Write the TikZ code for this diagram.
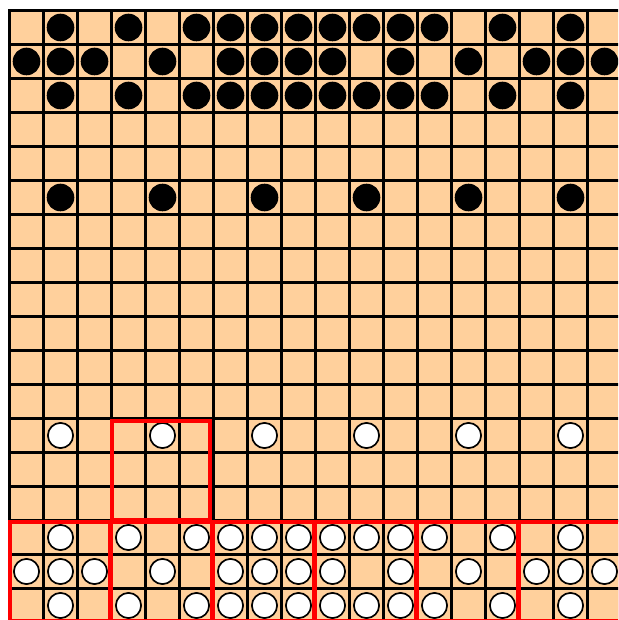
\documentclass[tikz,border=0pt]{standalone}
\definecolor{boardc}{RGB}{255,208,156}
\begin{document}
\begin{tikzpicture}[x=1pt,y=-1pt,
  gridline/.style={line width=2.2pt,black},
  border/.style={line width=3.5pt,black,line cap=rect},
  blackstone/.style={fill=black},
  whitestone/.style={fill=white,draw=black,line width=1.7pt},
  redbox/.style={draw=red,line width=4pt},
  reddiv/.style={draw=red,line width=5.5pt}]
\useasboundingbox (0,0) rectangle (618,620);
\begin{scope}
\clip (0,0) rectangle (618,620);
\fill[boardc] (9.5,10.5) rectangle (640,640);
\foreach \i in {1,...,18} \draw[gridline] (9.5+34*\i,10.5) -- (9.5+34*\i,640);
\foreach \j in {1,...,18} \draw[gridline] (9.5,10.5+34*\j) -- (640,10.5+34*\j);
\draw[border] (9.5,640) -- (9.5,10.5) -- (640,10.5);
% black stones
\foreach \r/\cols in {0/{1,3,5,6,7,8,9,10,11,12,14,16},
                      1/{0,1,2,4,6,7,8,9,11,13,15,16,17},
                      2/{1,3,5,6,7,8,9,10,11,12,14,16},
                      5/{1,4,7,10,13,16}}
  \foreach \c in \cols \fill[blackstone] (26.5+34*\c,27.5+34*\r) circle (13.8);
% white stones
\foreach \r/\cols in {12/{1,4,7,10,13,16},
                      15/{1,3,5,6,7,8,9,10,11,12,14,16},
                      16/{0,1,2,4,6,7,8,9,11,13,15,16,17},
                      17/{1,3,5,6,7,8,9,10,11,12,14,16}}
  \foreach \c in \cols \draw[whitestone] (26.5+34*\c,27.5+34*\r) circle (12.6);
% red boxes
\draw[redbox] (112.3,420.5) rectangle (210,519.5);
\draw[redbox] (10,522) rectangle (619.5,620.5);
\foreach \k in {1,...,5} \draw[reddiv] (9.5+102*\k-1,522) -- (9.5+102*\k-1,640);
\end{scope}
\end{tikzpicture}
\end{document}
